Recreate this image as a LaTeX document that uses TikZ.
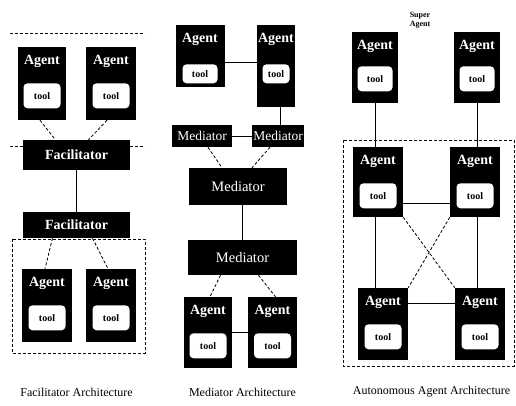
\documentclass[tikz,border=0pt]{standalone}
\usepackage{fontspec}
\setmainfont{Liberation Serif}
\usetikzlibrary{calc, positioning}

\begin{document}
\begin{tikzpicture}[x=1pt, y=-1pt, line join=round,
  agent/.style={fill=black, minimum width=48pt, inner sep=0pt},
  agenttxt/.style={text=white, inner sep=0pt, font=\fontsize{14}{14}\selectfont\bfseries},
  tool/.style={fill=white, rounded corners=4pt, minimum width=37pt, minimum height=25pt, inner sep=0pt, font=\fontsize{10}{10}\selectfont\bfseries},
  hub/.style={fill=black, text=white, inner sep=0pt, font=\fontsize{14.5}{14.5}\selectfont},
  link/.style={line width=0.8pt},
  dlink/.style={line width=0.8pt, dash pattern=on 3pt off 2pt},
  caption/.style={font=\fontsize{12}{12}\selectfont}]
\useasboundingbox[fill=white] (0,0) rectangle (516,405);

% Facilitator architecture
\coordinate (fl1) at (10,33);
\coordinate (fr1) at (145,33);
\coordinate (fl2) at (10,146);
\coordinate (fr2) at (145,146);
\draw[dlink] (fl1) -- (fr1);
\draw[dlink] (fl2) -- (fr2);
\draw[dlink] (12,239) rectangle (145,353);

\node[agent, minimum height=73pt] (fa1) at (42,83.5) {};
\node[agent, minimum width=50pt, minimum height=73pt] (fa2) at (111,83.5) {};
\node[hub, minimum width=107pt, minimum height=30pt, font=\fontsize{14}{14}\selectfont\bfseries] (fac1) at (76.5,155) {Facilitator};
\node[hub, minimum width=107pt, minimum height=26pt, font=\fontsize{14}{14}\selectfont\bfseries] (fac2) at (76.5,225) {Facilitator};
\node[agent, minimum width=50pt, minimum height=73pt] (fa3) at (47,305.5) {};
\node[agent, minimum width=50pt, minimum height=73pt] (fa4) at (111,305.5) {};

\node[agenttxt] at ([yshift=-15pt]fa1.north) {Agent};
\node[tool] at ([yshift=-49pt]fa1.north) {tool};
\node[agenttxt] at ([yshift=-15pt]fa2.north) {Agent};
\node[tool] at ([yshift=-49pt]fa2.north) {tool};
\node[agenttxt] at ([yshift=-15pt]fa3.north) {Agent};
\node[tool] at ([yshift=-49pt]fa3.north) {tool};
\node[agenttxt] at ([yshift=-15pt]fa4.north) {Agent};
\node[tool] at ([yshift=-49pt]fa4.north) {tool};

\draw[dlink] ([xshift=-2pt]fa1.south) -- ([xshift=-21pt]fac1.north);
\draw[dlink] ([xshift=-4pt]fa2.south) -- ([xshift=12pt]fac1.north);
\draw[link] (fac1.south) -- (fac2.north);
\draw[dlink] ([xshift=-24pt]fac2.south) -- ([xshift=-2pt]fa3.north);
\draw[dlink] ([xshift=16pt]fac2.south) -- ([xshift=-3pt]fa4.north);

\node[caption] (capfac) at (76.5,392) {Facilitator Architecture};

% Mediator architecture
\node[agent, minimum width=49pt, minimum height=62pt] (ma1) at (200,56) {};
\node[agent, minimum width=38pt, minimum height=82pt] (ma2) at (276,66) {};
\node[hub, minimum width=60pt, minimum height=22pt, font=\fontsize{13.5}{13.5}\selectfont] (med1) at (202,136) {Mediator};
\node[hub, minimum width=52pt, minimum height=22pt, font=\fontsize{13.5}{13.5}\selectfont] (med2) at (278,136) {Mediator};
\node[hub, minimum width=98pt, minimum height=37pt] (med3) at (238,186.5) {Mediator};
\node[hub, minimum width=109pt, minimum height=35pt] (med4) at (242.5,257.5) {Mediator};
\node[agent, minimum height=71pt] (ma3) at (208,332.5) {};
\node[agent, minimum width=49pt, minimum height=71pt] (ma4) at (272.5,332.5) {};

\node[agenttxt] at ([yshift=-15pt]ma1.north) {Agent};
\node[tool, minimum width=35pt, minimum height=19pt] at ([yshift=-49pt]ma1.north) {tool};
\node[agenttxt] at ([yshift=-15pt]ma2.north) {Agent};
\node[tool, minimum width=27pt, minimum height=19pt] at ([yshift=-49pt]ma2.north) {tool};
\node[agenttxt] at ([yshift=-15pt]ma3.north) {Agent};
\node[tool] at ([yshift=-49pt]ma3.north) {tool};
\node[agenttxt] at ([yshift=-15pt]ma4.north) {Agent};
\node[tool] at ([yshift=-49pt]ma4.north) {tool};

\coordinate (mj) at ([yshift=-6pt]ma1.east);
\draw[link] (mj) -- (mj -| ma2.west);
\draw[link] ([xshift=4pt]ma2.south) -- ([xshift=4pt]ma2.south |- med2.north);
\draw[link] (med1.east) -- (med2.west);
\draw[dlink] ([xshift=6pt]med1.south) -- ([xshift=-16pt]med3.north);
\draw[dlink] ([xshift=-8pt]med2.south) -- ([xshift=14pt]med3.north);
\draw[link] (med4.north |- med3.south) -- (med4.north);
\draw[dlink] ([xshift=-22pt]med4.south) -- ([xshift=2pt]ma3.north);
\draw[dlink] ([xshift=16pt]med4.south) -- ([xshift=3pt]ma4.north);
\draw[link] (ma3.east) -- (ma4.west);

\node[caption] (capmed) at (242.5,392) {Mediator Architecture};

% Autonomous agent architecture
\draw[dlink] (343,140) rectangle (514,366);
\node[font=\fontsize{8}{8.5}\selectfont\bfseries, align=center, inner sep=0pt] (super) at (420,20) {Super\\Agent};

\node[agent, minimum width=46pt, minimum height=71pt] (aa1) at (375,67.5) {};
\node[agent, minimum width=46pt, minimum height=71pt] (aa2) at (477,67.5) {};
\node[agent, minimum width=50pt, minimum height=70pt] (aa3) at (378,182) {};
\node[agent, minimum width=50pt, minimum height=70pt] (aa4) at (475,182) {};
\node[agent, minimum width=50pt, minimum height=72pt] (aa5) at (383,324) {};
\node[agent, minimum width=50pt, minimum height=72pt] (aa6) at (480,324) {};

\node[agenttxt] at ([yshift=-15pt]aa1.north) {Agent};
\node[tool, minimum width=35pt] at ([yshift=-47pt]aa1.north) {tool};
\node[agenttxt] at ([yshift=-15pt]aa2.north) {Agent};
\node[tool, minimum width=35pt] at ([yshift=-47pt]aa2.north) {tool};
\node[agenttxt] at ([yshift=-15pt]aa3.north) {Agent};
\node[tool] at ([yshift=-49pt]aa3.north) {tool};
\node[agenttxt] at ([yshift=-15pt]aa4.north) {Agent};
\node[tool] at ([yshift=-49pt]aa4.north) {tool};
\node[agenttxt] at ([yshift=-15pt]aa5.north) {Agent};
\node[tool] at ([yshift=-49pt]aa5.north) {tool};
\node[agenttxt] at ([yshift=-15pt]aa6.north) {Agent};
\node[tool] at ([yshift=-49pt]aa6.north) {tool};

\draw[link] (aa1.south) -- (aa1.south |- aa3.north);
\draw[link] (aa2.south) -- (aa2.south |- aa4.north);
\draw[link] (aa3.south -| aa1.south) -- (aa5.north -| aa1.south);
\draw[link] (aa4.south -| aa2.south) -- (aa6.north -| aa2.south);
\coordinate (aj1) at ([yshift=-21pt]aa3.east);
\draw[link] (aj1) -- (aj1 -| aa4.west);
\coordinate (aj2) at ([yshift=21pt]aa5.east);
\draw[link] (aj2) -- (aj2 -| aa6.west);
\draw[dlink] (aa3.south east) -- (aa6.north west);
\draw[dlink] (aa4.south west) -- (aa5.north east);

\node[caption] (capaut) at (431.5,392) {Autonomous Agent Architecture};
\end{tikzpicture}
\end{document}
